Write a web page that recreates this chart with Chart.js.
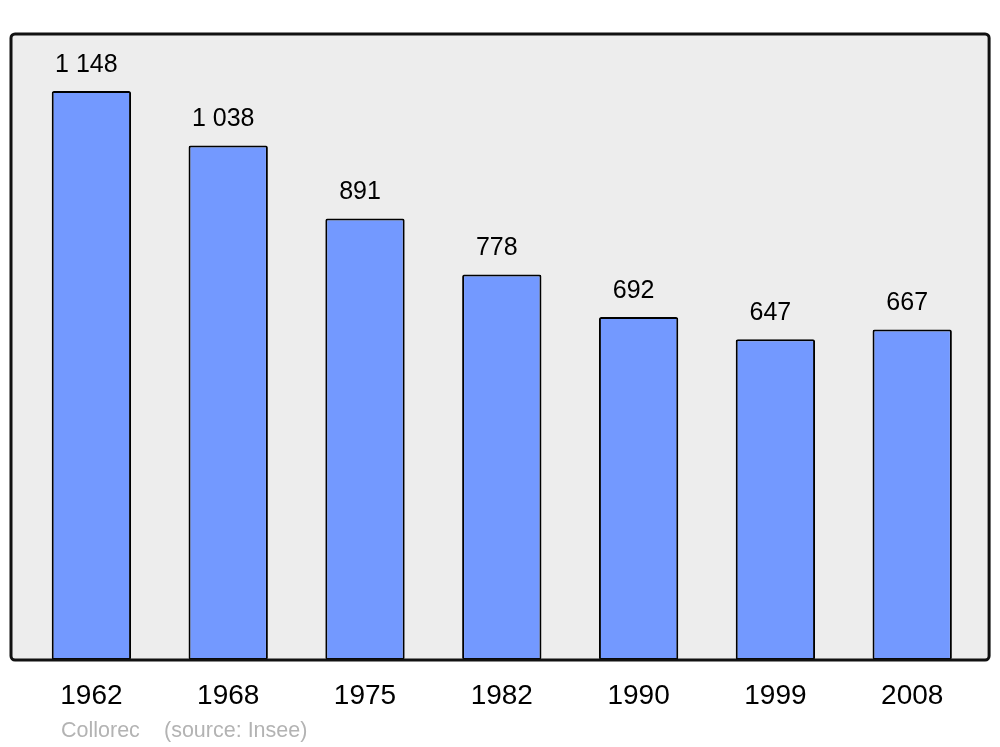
<!DOCTYPE html>
<html>
<head>
<meta charset="utf-8">
<script src="https://cdn.jsdelivr.net/npm/chart.js@4.4.0/dist/chart.umd.min.js"></script>
<style>
  html, body { margin: 0; padding: 0; background: #fff; }
  #wrap { width: 1000px; height: 747px; position: relative; }
</style>
</head>
<body>
<div id="wrap"><canvas id="popChart"></canvas></div>
<script>
// ===============================
// DATA
// ===============================
const years = ["1962", "1968", "1975", "1982", "1990", "1999", "2008"];
const population = [1148, 1038, 891, 778, 692, 647, 667];
const author = "Collorec";
const source = "(source: Insee)";

const FONT = "'Liberation Sans', Arial, sans-serif";

function fmt(n) {
  return String(n).replace(/\B(?=(\d{3})+(?!\d))/g, " ");
}

// ===============================
// PLUGINS
// ===============================
const framePlugin = {
  id: "frame",
  beforeDatasetsDraw(chart) {
    const { ctx, chartArea: a } = chart;
    ctx.save();
    ctx.beginPath();
    ctx.roundRect(a.left - 12, a.top, a.right - a.left + 20.5, a.bottom - a.top, 4);
    ctx.fillStyle = "#ededed";
    ctx.fill();
    ctx.restore();
  },
  afterDatasetsDraw(chart) {
    const { ctx, chartArea: a } = chart;
    ctx.save();
    ctx.beginPath();
    ctx.roundRect(a.left - 12, a.top, a.right - a.left + 20.5, a.bottom - a.top, 4);
    ctx.lineWidth = 3;
    ctx.strokeStyle = "#111";
    ctx.stroke();

    // value labels
    ctx.fillStyle = "#000";
    ctx.font = "25px " + FONT;
    ctx.textAlign = "center";
    ctx.textBaseline = "middle";
    chart.getDatasetMeta(0).data.forEach((bar, i) => {
      ctx.fillText(fmt(population[i]), bar.x - 5, bar.y - 26);
    });

    // source line
    ctx.fillStyle = "#b3b3b3";
    ctx.font = "21.5px " + FONT;
    ctx.textAlign = "left";
    ctx.textBaseline = "alphabetic";
    ctx.fillText(author, 61, 737);
    ctx.fillText(source, 164, 737);
    ctx.restore();
  }
};

// ===============================
// CHART
// ===============================
new Chart(document.getElementById("popChart"), {
  type: "bar",
  data: {
    labels: years,
    datasets: [{
      data: population,
      backgroundColor: "#7399ff",
      borderColor: "#000",
      borderWidth: 2,
      borderRadius: 2,
      borderSkipped: false,
      barPercentage: 0.58,
      categoryPercentage: 1
    }]
  },
  options: {
    responsive: true,
    maintainAspectRatio: false,
    animation: false,
    layout: { padding: { left: 23, right: 19.4, top: 34, bottom: 0 } },
    plugins: {
      legend: { display: false },
      tooltip: { enabled: false }
    },
    scales: {
      x: {
        grid: { display: false, drawTicks: false },
        border: { display: false },
        ticks: {
          color: "#000",
          font: { family: FONT, size: 28 },
          padding: 19
        },
        afterFit(s) { s.height = 87; }
      },
      y: {
        display: false,
        min: 0,
        max: 1263
      }
    }
  },
  plugins: [framePlugin]
});
</script>
</body>
</html>
